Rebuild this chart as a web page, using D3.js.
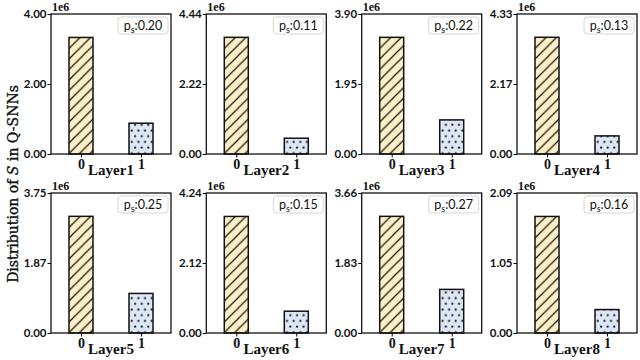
<!DOCTYPE html>
<html>
<head>
<meta charset="utf-8">
<script src="https://cdn.jsdelivr.net/npm/d3@7"></script>
<style>
  body { margin: 0; background: #fff; }
  svg { display: block; }
</style>
</head>
<body>
<svg id="vis" width="640" height="360"></svg>
<script>
// values (counts in units of 1e6)
var layers = ["Layer1", "Layer2", "Layer3", "Layer4", "Layer5", "Layer6", "Layer7", "Layer8"];
var spikeValues = ["0", "1"];
var yMax = [4.00, 4.44, 3.90, 4.33, 3.75, 4.24, 3.66, 2.09];
var midTicks = ["2.00", "2.22", "1.95", "2.17", "1.87", "2.12", "1.83", "1.05"];
var count0 = [3.33, 3.70, 3.25, 3.61, 3.125, 3.53, 3.05, 1.74];
var count1 = [0.88, 0.50, 0.95, 0.56, 1.06, 0.66, 1.14, 0.35];
var psLabels = ["0.20", "0.11", "0.22", "0.13", "0.25", "0.15", "0.27", "0.16"];

var svg = d3.select("#vis");

// hatch patterns
var hs = 10.5;
var defs = svg.append("defs");
var hatch = defs.append("pattern")
  .attr("id", "hatch")
  .attr("patternUnits", "userSpaceOnUse")
  .attr("width", hs).attr("height", hs);
hatch.append("rect").attr("width", hs).attr("height", hs).attr("fill", "#fdf0c6");
hatch.append("path")
  .attr("d", "M0," + hs + " L" + hs + ",0 M-2,2 L2,-2 M" + (hs - 2) + "," + (hs + 2) + " L" + (hs + 2) + "," + (hs - 2))
  .attr("stroke", "#111").attr("stroke-width", 1.2);

var dots = defs.append("pattern")
  .attr("id", "dots")
  .attr("patternUnits", "userSpaceOnUse")
  .attr("width", 6.6).attr("height", 11.4);
dots.append("rect").attr("width", 6.6).attr("height", 11.4).attr("fill", "#dde6f5");
dots.append("circle").attr("cx", 1.6).attr("cy", 2.5).attr("r", 1.1).attr("fill", "#111");
dots.append("circle").attr("cx", 4.9).attr("cy", 8.2).attr("r", 1.1).attr("fill", "#111");

var plotWidth = 120;
var plotHeight = 140;
var colLeft = [51, 206.3, 361.7, 517];
var rowTop = [14, 193];

var xScale = d3.scaleLinear().domain([-0.5, 1.5]).range([0, plotWidth]);
var barW = xScale(0.4) - xScale(0);

for (let i = 0; i < layers.length; i++) {
  let col = i % 4;
  let row = Math.floor(i / 4);
  let plot = svg.append("g")
    .attr("transform", "translate(" + colLeft[col] + "," + rowTop[row] + ")");

  let yScale = d3.scaleLinear().domain([0, yMax[i]]).range([plotHeight, 0]);
  let vals = [count0[i], count1[i]];

  // bars
  plot.selectAll("rect.bar")
    .data(vals)
    .enter()
    .append("rect")
    .attr("class", "bar")
    .attr("x", function(d, j){ return xScale(j) - barW / 2; })
    .attr("y", function(d){ return yScale(d); })
    .attr("width", barW)
    .attr("height", function(d){ return plotHeight - yScale(d); })
    .attr("fill", function(d, j){ return j == 0 ? "url(#hatch)" : "url(#dots)"; })
    .attr("stroke", "#111")
    .attr("stroke-width", 1.5);

  // axes
  let yAxis = d3.axisLeft(yScale)
    .tickValues([0, yMax[i] / 2, yMax[i]])
    .tickSize(3.5)
    .tickFormat(function(d, k){ return k == 0 ? "0.00" : (k == 1 ? midTicks[i] : yMax[i].toFixed(2)); });
  let yGroup = plot.append("g").call(yAxis);
  yGroup.select(".domain").remove();
  yGroup.selectAll("text")
    .attr("x", -4.5)
    .style("font-family", "Lato, sans-serif")
    .style("font-weight", "bold")
    .style("font-size", "11.5px")
    .attr("fill", "#111");

  let xAxis = d3.axisBottom(xScale)
    .tickValues([0, 1])
    .tickSize(3.5)
    .tickFormat(function(d){ return spikeValues[d]; });
  let xGroup = plot.append("g")
    .attr("transform", "translate(0," + plotHeight + ")")
    .call(xAxis);
  xGroup.select(".domain").remove();
  xGroup.selectAll("text")
    .attr("y", 5)
    .style("font-family", "'Liberation Serif', serif")
    .style("font-weight", "bold")
    .style("font-size", "14px")
    .attr("fill", "#111");

  // frame
  plot.append("rect")
    .attr("width", plotWidth).attr("height", plotHeight)
    .attr("fill", "none").attr("stroke", "#111").attr("stroke-width", 1.3);

  // offset text
  plot.append("text")
    .attr("x", 1).attr("y", -3)
    .style("font-family", "'Liberation Serif', serif")
    .style("font-weight", "bold")
    .style("font-size", "12px")
    .attr("fill", "#111")
    .text("1e6");

  // p_s box
  let box = plot.append("g").attr("transform", "translate(" + (plotWidth - 53) + ",3)");
  box.append("rect")
    .attr("width", 50).attr("height", 17).attr("rx", 3)
    .attr("fill", "#fff").attr("stroke", "#d6d6d6").attr("stroke-width", 1);
  let t = box.append("text")
    .attr("x", 25).attr("y", 13)
    .attr("text-anchor", "middle")
    .style("font-family", "Lato, sans-serif")
    .style("font-size", "12.5px")
    .attr("fill", "#111");
  t.append("tspan").text("p");
  t.append("tspan").attr("dy", 3).style("font-size", "9px").text("s");
  t.append("tspan").attr("dy", -3).text(":" + psLabels[i]);

  // x label
  plot.append("text")
    .attr("x", plotWidth / 2).attr("y", plotHeight + 21)
    .attr("text-anchor", "middle")
    .style("font-family", "'Liberation Serif', serif")
    .style("font-weight", "bold")
    .style("font-size", "15px")
    .attr("fill", "#111")
    .text(layers[i]);
}

// shared y label
var yl = svg.append("text")
  .attr("transform", "translate(18,184) rotate(-90)")
  .attr("text-anchor", "middle")
  .style("font-family", "'DejaVu Serif', serif")
  .style("font-size", "14px")
  .attr("fill", "#111")
  .attr("stroke", "#111")
  .attr("stroke-width", 0.35);
yl.append("tspan").text("Distribution of ");
yl.append("tspan").style("font-style", "italic").text("S");
yl.append("tspan").text(" in Q-SNNs");
</script>
</body>
</html>
